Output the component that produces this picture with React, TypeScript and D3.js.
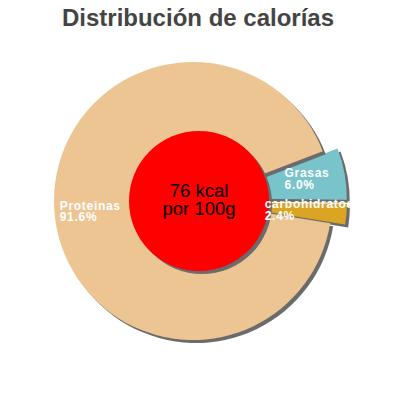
import { useMemo } from "react";
import * as d3 from "d3";

// Calorie split per 100g
const categories = ["Grasas", "carbohidratos", "Proteinas"];
const percents = [6.0, 2.4, 91.6];
const sliceColors = ["#79c3cb", "#dba423", "#edc592"];
const totalKcal = 76;

const CONFIG = {
  WIDTH: 400,
  HEIGHT: 400,
  CENTER: { x: 193, y: 201 },
  RADIUS: 139,
  INNER: { dx: 6, dy: 0, r: 70 },
  EXPLODE: 15,
  SHADOW: { dx: 3, dy: 3, color: "#6b6b6b" },
  START_DEG: 69,
  // label placement: radius from the pie centre, plus a small vertical nudge
  LABEL: {
    Grasas: { r: 93, dy: -2.5 },
    carbohidratos: { r: 72, dy: 6 },
    Proteinas: { r: 134, dy: 0 },
  } as Record<string, { r: number; dy: number }>,
} as const;

const FONT = "'Liberation Sans', Arial, Helvetica, sans-serif";

export default function App() {
  const { CENTER, RADIUS, INNER, EXPLODE, SHADOW, START_DEG, LABEL } = CONFIG;

  const arcs = useMemo(() => {
    const start = (START_DEG * Math.PI) / 180;
    return d3
      .pie<number>()
      .sort(null)
      .value((d) => d)
      .startAngle(start)
      .endAngle(start + 2 * Math.PI)(percents);
  }, []);

  const arcGen = d3.arc<d3.PieArcDatum<number>>().innerRadius(0).outerRadius(RADIUS);

  return (
    <svg
      width={CONFIG.WIDTH}
      height={CONFIG.HEIGHT}
      style={{ position: "absolute", left: 0, top: 0, background: "#fff" }}
      fontFamily={FONT}
    >
      <text
        x={198}
        y={26}
        textAnchor="middle"
        fontSize={24}
        fontWeight="bold"
        fill="#444"
      >
        Distribución de calorías
      </text>

      <g transform={`translate(${CENTER.x},${CENTER.y})`}>
        {arcs.map((a, i) => {
          // big slice stays put, small ones are pulled out
          const exploded = i < 2;
          const mid = (a.startAngle + a.endAngle) / 2;
          const ox = exploded ? Math.sin(mid) * EXPLODE : 0;
          const oy = exploded ? -Math.cos(mid) * EXPLODE : 0;
          const d = arcGen(a) || "";
          return (
            <g key={categories[i]} transform={`translate(${ox},${oy})`}>
              <path d={d} transform={`translate(${SHADOW.dx},${SHADOW.dy})`} fill={SHADOW.color} />
              <path d={d} fill={sliceColors[i]} />
            </g>
          );
        })}

        {/* center disc */}
        <circle cx={INNER.dx + SHADOW.dx} cy={INNER.dy + SHADOW.dy} r={INNER.r} fill={SHADOW.color} />
        <circle cx={INNER.dx} cy={INNER.dy} r={INNER.r} fill="#ff0000" />
        <text x={INNER.dx} y={-4} textAnchor="middle" fontSize={18.5} fill="#000">
          {totalKcal} kcal
        </text>
        <text x={INNER.dx} y={14} textAnchor="middle" fontSize={18.5} fill="#000">
          por 100g
        </text>

        {arcs.map((a, i) => {
          const mid = (a.startAngle + a.endAngle) / 2;
          const lp = LABEL[categories[i]];
          const x = Math.sin(mid) * lp.r;
          const y = -Math.cos(mid) * lp.r + lp.dy;
          return (
            <text
              key={`lbl-${categories[i]}`}
              x={x}
              y={y}
              fontSize={12}
              fontWeight="bold"
              fill="#fff"
              style={{ letterSpacing: "0.7px" }}
            >
              <tspan x={x} dy={-5}>{categories[i]}</tspan>
              <tspan x={x} dy={11.5}>{percents[i].toFixed(1)}%</tspan>
            </text>
          );
        })}
      </g>
    </svg>
  );
}
